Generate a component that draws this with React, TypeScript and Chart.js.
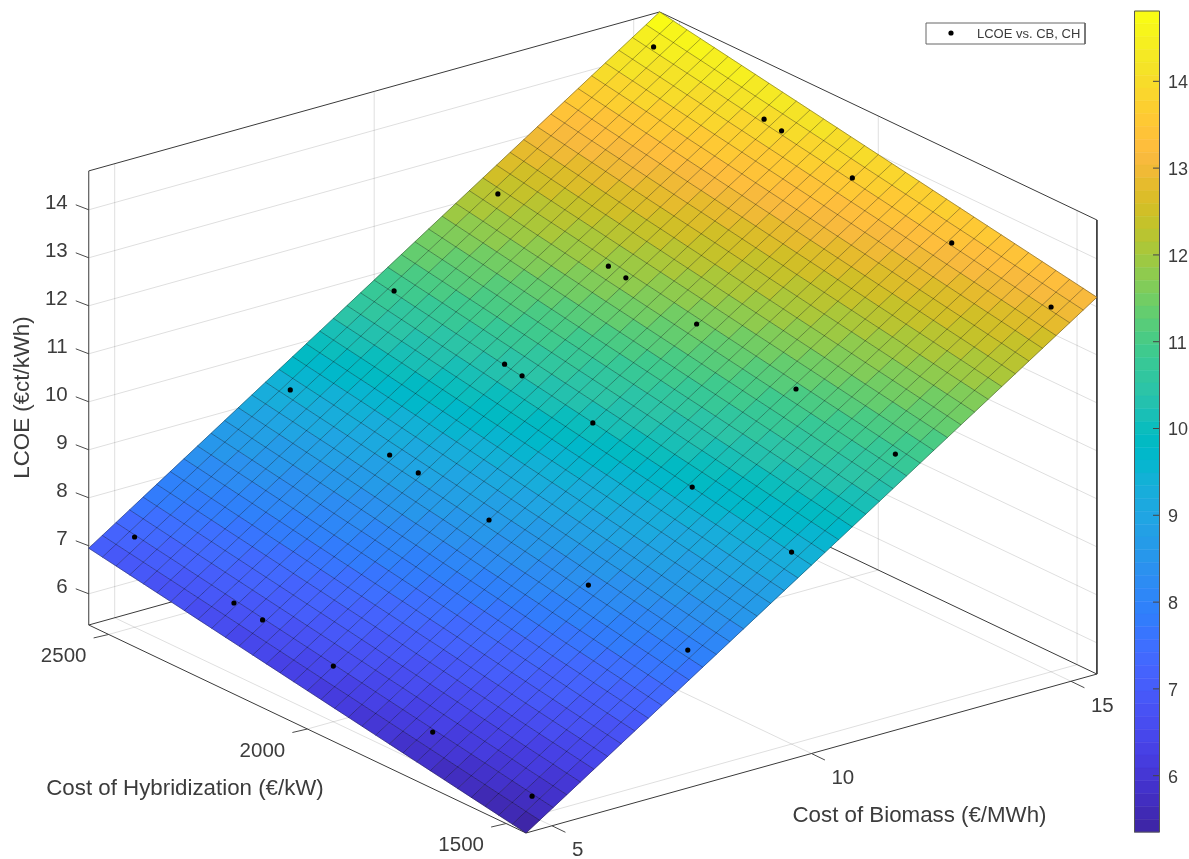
import React, { useEffect, useRef } from "react";
import { Chart, registerables } from "chart.js";

Chart.register(...registerables);

// ---- Values ----
const biomassCost = [5, 8, 10, 12, 15];
const hybridCostLowBiomass = [1500, 1750, 2000, 2178, 2250, 2500];
const hybridCostHighBiomass = [1500, 1750, 2000, 2178, 2222, 2500];
const lcoeAt5 = [5.77, 6.12, 6.51, 6.77, 6.84, 7.23];
const lcoeAt8 = [7.91, 8.28, 8.65, 8.93, 9.02, 9.39];
const lcoeAt10 = [9.35, 9.72, 10.07, 10.35, 10.42, 10.85];
const lcoeAt12 = [10.79, 11.16, 11.53, 11.79, 11.86, 12.27];
const lcoeAt15 = [12.95, 13.3, 13.67, 13.95, 14.02, 14.43];

const biomassLimits = [4.5, 15.5];
const hybridLimits = [1450, 2550];
const lcoeLimits = [5.35, 14.81];
// Fitted surface height at its four corners: [low CB: low CH, high CH], [high CB: low CH, high CH]
const surfaceCornerLow = [5.35, 6.95];
const surfaceCornerHigh = [13.2, 14.81];
const meshCellsBiomass = 42;
const meshCellsHybrid = 32;

const biomassTicks = [5, 10, 15];
const hybridTicks = [1500, 2000, 2500];
const lcoeTicks = [6, 7, 8, 9, 10, 11, 12, 13, 14];

const legendLabel = "LCOE vs. CB, CH";
const xTitle = "Cost of Biomass (€/MWh)";
const yTitle = "Cost of Hybridization (€/kW)";
const zTitle = "LCOE (€ct/kWh)";

const parula = [
  [0.2422, 0.1504, 0.6603], [0.2504, 0.165, 0.7076], [0.2578, 0.1818, 0.7511], [0.2647, 0.1978, 0.7952],
  [0.2706, 0.2147, 0.8364], [0.2751, 0.2342, 0.871], [0.2783, 0.2559, 0.8991], [0.2803, 0.2782, 0.9221],
  [0.2813, 0.3006, 0.9414], [0.281, 0.3228, 0.9579], [0.2795, 0.3447, 0.9717], [0.276, 0.3667, 0.9829],
  [0.2699, 0.3892, 0.9906], [0.2602, 0.4123, 0.9952], [0.244, 0.4358, 0.9988], [0.2206, 0.4603, 0.9973],
  [0.1963, 0.4847, 0.9892], [0.1834, 0.5074, 0.9798], [0.1786, 0.5289, 0.9682], [0.1764, 0.5499, 0.952],
  [0.1687, 0.5703, 0.9359], [0.154, 0.5902, 0.9218], [0.146, 0.6091, 0.9079], [0.138, 0.6276, 0.8973],
  [0.1248, 0.6459, 0.8883], [0.1113, 0.6635, 0.8763], [0.0952, 0.6798, 0.8598], [0.0689, 0.6948, 0.8394],
  [0.0297, 0.7082, 0.8163], [0.0036, 0.7203, 0.7917], [0.0067, 0.7312, 0.766], [0.0433, 0.7411, 0.7394],
  [0.0964, 0.75, 0.712], [0.1408, 0.7584, 0.6842], [0.1717, 0.767, 0.6554], [0.1938, 0.7758, 0.6251],
  [0.2161, 0.7843, 0.5923], [0.247, 0.7918, 0.5567], [0.2906, 0.7973, 0.5188], [0.3406, 0.8008, 0.4789],
  [0.3909, 0.8029, 0.4354], [0.4456, 0.8024, 0.3909], [0.5044, 0.7993, 0.348], [0.5616, 0.7942, 0.3045],
  [0.6174, 0.7876, 0.2612], [0.672, 0.7793, 0.2227], [0.7242, 0.7698, 0.191], [0.7738, 0.7598, 0.1646],
  [0.8203, 0.7498, 0.1535], [0.8634, 0.7406, 0.1596], [0.9035, 0.733, 0.1774], [0.9393, 0.7288, 0.21],
  [0.9728, 0.7298, 0.2394], [0.9956, 0.7434, 0.2371], [0.997, 0.7659, 0.2199], [0.9952, 0.7893, 0.2028],
  [0.9892, 0.8136, 0.1885], [0.9786, 0.8386, 0.1766], [0.9676, 0.8639, 0.1643], [0.961, 0.889, 0.1537],
  [0.9597, 0.9135, 0.1423], [0.9628, 0.9373, 0.1265], [0.9691, 0.9606, 0.1064], [0.9769, 0.9839, 0.0805],
];

// ---- View of the 3-D box on the flat x/y scales ----
const FONT = '"Liberation Sans", Arial, sans-serif';
const INK = "#3c3c3c";
const project = (cb: number, ch: number, z: number) => ({
  x: 526 + (cb - biomassLimits[0]) * 51.9 - (ch - hybridLimits[0]) * 0.3975,
  y: 833 - (cb - biomassLimits[0]) * 14.45 - (ch - hybridLimits[0]) * 0.1891 - (z - lcoeLimits[0]) * 48,
});
const colourOf = (z: number) => {
  const t = (z - lcoeLimits[0]) / (lcoeLimits[1] - lcoeLimits[0]);
  const c = parula[Math.max(0, Math.min(63, Math.floor(t * 64)))];
  return `rgb(${Math.round(c[0] * 255)},${Math.round(c[1] * 255)},${Math.round(c[2] * 255)})`;
};
const [cb0, cb1] = biomassLimits;
const [ch0, ch1] = hybridLimits;
const [z0, z1] = lcoeLimits;

const surfaceAt = (u: number, v: number) =>
  surfaceCornerLow[0] * (1 - u) * (1 - v) +
  surfaceCornerLow[1] * (1 - u) * v +
  surfaceCornerHigh[0] * u * (1 - v) +
  surfaceCornerHigh[1] * u * v;
const meshPoint = (u: number, v: number) =>
  project(cb0 + (cb1 - cb0) * u, ch0 + (ch1 - ch0) * v, surfaceAt(u, v));

const line = (points: any[], color: string, width: number, order: number, yAxisID = "y") => ({
  data: points,
  showLine: true,
  borderColor: color,
  borderWidth: width,
  pointRadius: 0,
  pointHitRadius: 0,
  fill: false,
  order,
  yAxisID,
});

function buildDatasets() {
  const sets: any[] = [];
  const GRID = "rgba(0,0,0,0.13)";
  const BOX = "#3a3a3a";
  const TICK = "#4a4a4a";

  // walls and floor grid
  lcoeTicks.forEach((z) =>
    sets.push(line([project(cb0, ch1, z), project(cb1, ch1, z), project(cb1, ch0, z)], GRID, 1, 50))
  );
  biomassTicks.forEach((cb) =>
    sets.push(line([project(cb, ch0, z0), project(cb, ch1, z0), project(cb, ch1, z1)], GRID, 1, 50))
  );
  hybridTicks.forEach((ch) =>
    sets.push(line([project(cb0, ch, z0), project(cb1, ch, z0), project(cb1, ch, z1)], GRID, 1, 50))
  );
  // box
  sets.push(
    line(
      [project(cb0, ch1, z0), project(cb0, ch0, z0), project(cb1, ch0, z0), project(cb1, ch1, z0), project(cb0, ch1, z0)],
      BOX, 1, 40
    )
  );
  sets.push(
    line(
      [project(cb0, ch1, z0), project(cb0, ch1, z1), project(cb1, ch1, z1), project(cb1, ch0, z1), project(cb1, ch0, z0)],
      BOX, 1, 40
    )
  );
  // axis ticks
  lcoeTicks.forEach((z) => {
    const p = project(cb0, ch1, z);
    sets.push(line([p, { x: p.x - 13, y: p.y - 5 }], TICK, 1, 40));
  });
  hybridTicks.forEach((ch) => {
    const p = project(cb0, ch, z0);
    sets.push(line([p, { x: p.x - 15, y: p.y + 3.5 }], TICK, 1, 40));
  });
  biomassTicks.forEach((cb) => {
    const p = project(cb, ch0, z0);
    sets.push(line([p, { x: p.x + 13.5, y: p.y + 6.5 }], TICK, 1, 40));
  });

  // surface cells
  const du = 1 / meshCellsBiomass;
  const dv = 1 / meshCellsHybrid;
  for (let i = 0; i < meshCellsBiomass; i++) {
    for (let j = 0; j < meshCellsHybrid; j++) {
      const u = i * du;
      const v = j * dv;
      const colour = colourOf(surfaceAt(u + du / 2, v + dv / 2));
      sets.push({
        data: [meshPoint(u, v), meshPoint(u + du, v), meshPoint(u + du, v + dv), meshPoint(u, v + dv), meshPoint(u, v)],
        showLine: true,
        borderColor: colour,
        backgroundColor: colour,
        borderWidth: 0.6,
        pointRadius: 0,
        pointHitRadius: 0,
        fill: "shape",
        order: 30,
      });
    }
  }
  // mesh lines
  const MESH = "rgba(0,0,0,0.33)";
  for (let i = 0; i <= meshCellsBiomass; i++) {
    sets.push(line([meshPoint(i * du, 0), meshPoint(i * du, 1)], MESH, 1, 20));
  }
  for (let j = 0; j <= meshCellsHybrid; j++) {
    sets.push(line([meshPoint(0, j * dv), meshPoint(1, j * dv)], MESH, 1, 20));
  }

  // scatter points
  const lcoeRows = [lcoeAt5, lcoeAt8, lcoeAt10, lcoeAt12, lcoeAt15];
  const pts: any[] = [];
  biomassCost.forEach((cb, r) => {
    const chs = r < 2 ? hybridCostLowBiomass : hybridCostHighBiomass;
    chs.forEach((ch, c) => pts.push(project(cb, ch, lcoeRows[r][c])));
  });
  sets.push({
    label: legendLabel,
    data: pts,
    showLine: false,
    pointRadius: 2.6,
    pointBorderWidth: 0,
    pointBackgroundColor: "#000",
    order: 1,
  });

  // legend box and marker
  sets.push(
    line(
      [{ x: 926, y: 23 }, { x: 1085, y: 23 }, { x: 1085, y: 44 }, { x: 926, y: 44 }, { x: 926, y: 23 }],
      "#666", 1, 5
    )
  );
  sets.push({
    data: [{ x: 951, y: 33 }],
    showLine: false,
    pointRadius: 2.6,
    pointBorderWidth: 0,
    pointBackgroundColor: "#000",
    order: 1,
  });

  // colour bar bands, on the right-hand axis
  parula.forEach((_, k) => {
    const a = z0 + ((z1 - z0) * k) / 64;
    const b = z0 + ((z1 - z0) * (k + 1)) / 64;
    const colour = colourOf((a + b) / 2);
    sets.push({
      data: [{ x: 1134.5, y: a }, { x: 1159.5, y: a }, { x: 1159.5, y: b }, { x: 1134.5, y: b }, { x: 1134.5, y: a }],
      showLine: true,
      borderColor: colour,
      backgroundColor: colour,
      borderWidth: 0.5,
      pointRadius: 0,
      fill: "shape",
      order: 10,
      yAxisID: "c",
    });
  });
  sets.push(
    line(
      [{ x: 1134.5, y: z0 }, { x: 1159.5, y: z0 }, { x: 1159.5, y: z1 }, { x: 1134.5, y: z1 }, { x: 1134.5, y: z0 }],
      "#555", 1, 5, "c"
    )
  );
  lcoeTicks.forEach((z) =>
    sets.push(line([{ x: 1153, y: z }, { x: 1159.5, y: z }], "#444", 1, 5, "c"))
  );
  return sets;
}

const textPlugin = {
  id: "labels3d",
  afterDraw(chart: any) {
    const ctx = chart.ctx;
    const sx = chart.scales.x;
    const sy = chart.scales.y;
    const put = (s: string, x: number, y: number, align: CanvasTextAlign, size: number, colour = INK) => {
      ctx.font = `${size}px ${FONT}`;
      ctx.fillStyle = colour;
      ctx.textAlign = align;
      ctx.textBaseline = "middle";
      ctx.fillText(s, sx.getPixelForValue(x), sy.getPixelForValue(y));
    };
    ctx.save();
    lcoeTicks.forEach((z) => {
      const p = project(cb0, ch1, z);
      put(String(z), p.x - 21, p.y - 6.5, "right", 20.5);
    });
    hybridTicks.forEach((ch) => {
      const p = project(cb0, ch, z0);
      put(String(ch), p.x - 45, p.y + 22, "center", 20.5);
    });
    biomassTicks.forEach((cb) => {
      const p = project(cb, ch0, z0);
      put(String(cb), p.x + 20, p.y + 25, "left", 20.5);
    });
    put(yTitle, 185, 789, "center", 22.3);
    put(xTitle, 919.5, 816, "center", 22.3);
    put(legendLabel, 977, 34.5, "left", 13);
    ctx.save();
    ctx.translate(sx.getPixelForValue(23), sy.getPixelForValue(397.5));
    ctx.rotate(-Math.PI / 2);
    ctx.font = `22.3px ${FONT}`;
    ctx.fillStyle = INK;
    ctx.textAlign = "center";
    ctx.textBaseline = "middle";
    ctx.fillText(zTitle, 0, 0);
    ctx.restore();
    ctx.restore();
  },
};

export default function App() {
  const ref = useRef<HTMLCanvasElement | null>(null);
  useEffect(() => {
    if (!ref.current) return;
    const chart = new Chart(ref.current, {
      type: "scatter",
      data: { datasets: buildDatasets() },
      plugins: [textPlugin],
      options: {
        responsive: false,
        animation: false,
        events: [],
        parsing: false,
        layout: { padding: 0, autoPadding: false },
        plugins: { legend: { display: false }, tooltip: { enabled: false } },
        scales: {
          x: { type: "linear", min: 0, max: 1160, display: false },
          y: { type: "linear", min: 0, max: 859, reverse: true, display: false },
          c: {
            type: "linear",
            axis: "y",
            position: "right",
            min: 5.04,
            max: 14.937,
            grid: { display: false, drawTicks: false },
            border: { display: false },
            ticks: { padding: 8, labelOffset: 2, color: INK, font: { family: FONT, size: 18 }, maxRotation: 0 },
            afterBuildTicks: (s: any) => {
              s.ticks = lcoeTicks.map((value) => ({ value }));
            },
            afterFit: (s: any) => {
              s.width = 29;
              s.paddingTop = 0;
              s.paddingBottom = 0;
            },
          },
        },
      } as any,
    });
    return () => chart.destroy();
  }, []);
  return (
    <canvas
      ref={ref}
      width={1189}
      height={859}
      style={{ position: "absolute", left: 0, top: 0, width: 1189, height: 859, display: "block", filter: "blur(0.35px)" }}
    />
  );
}
